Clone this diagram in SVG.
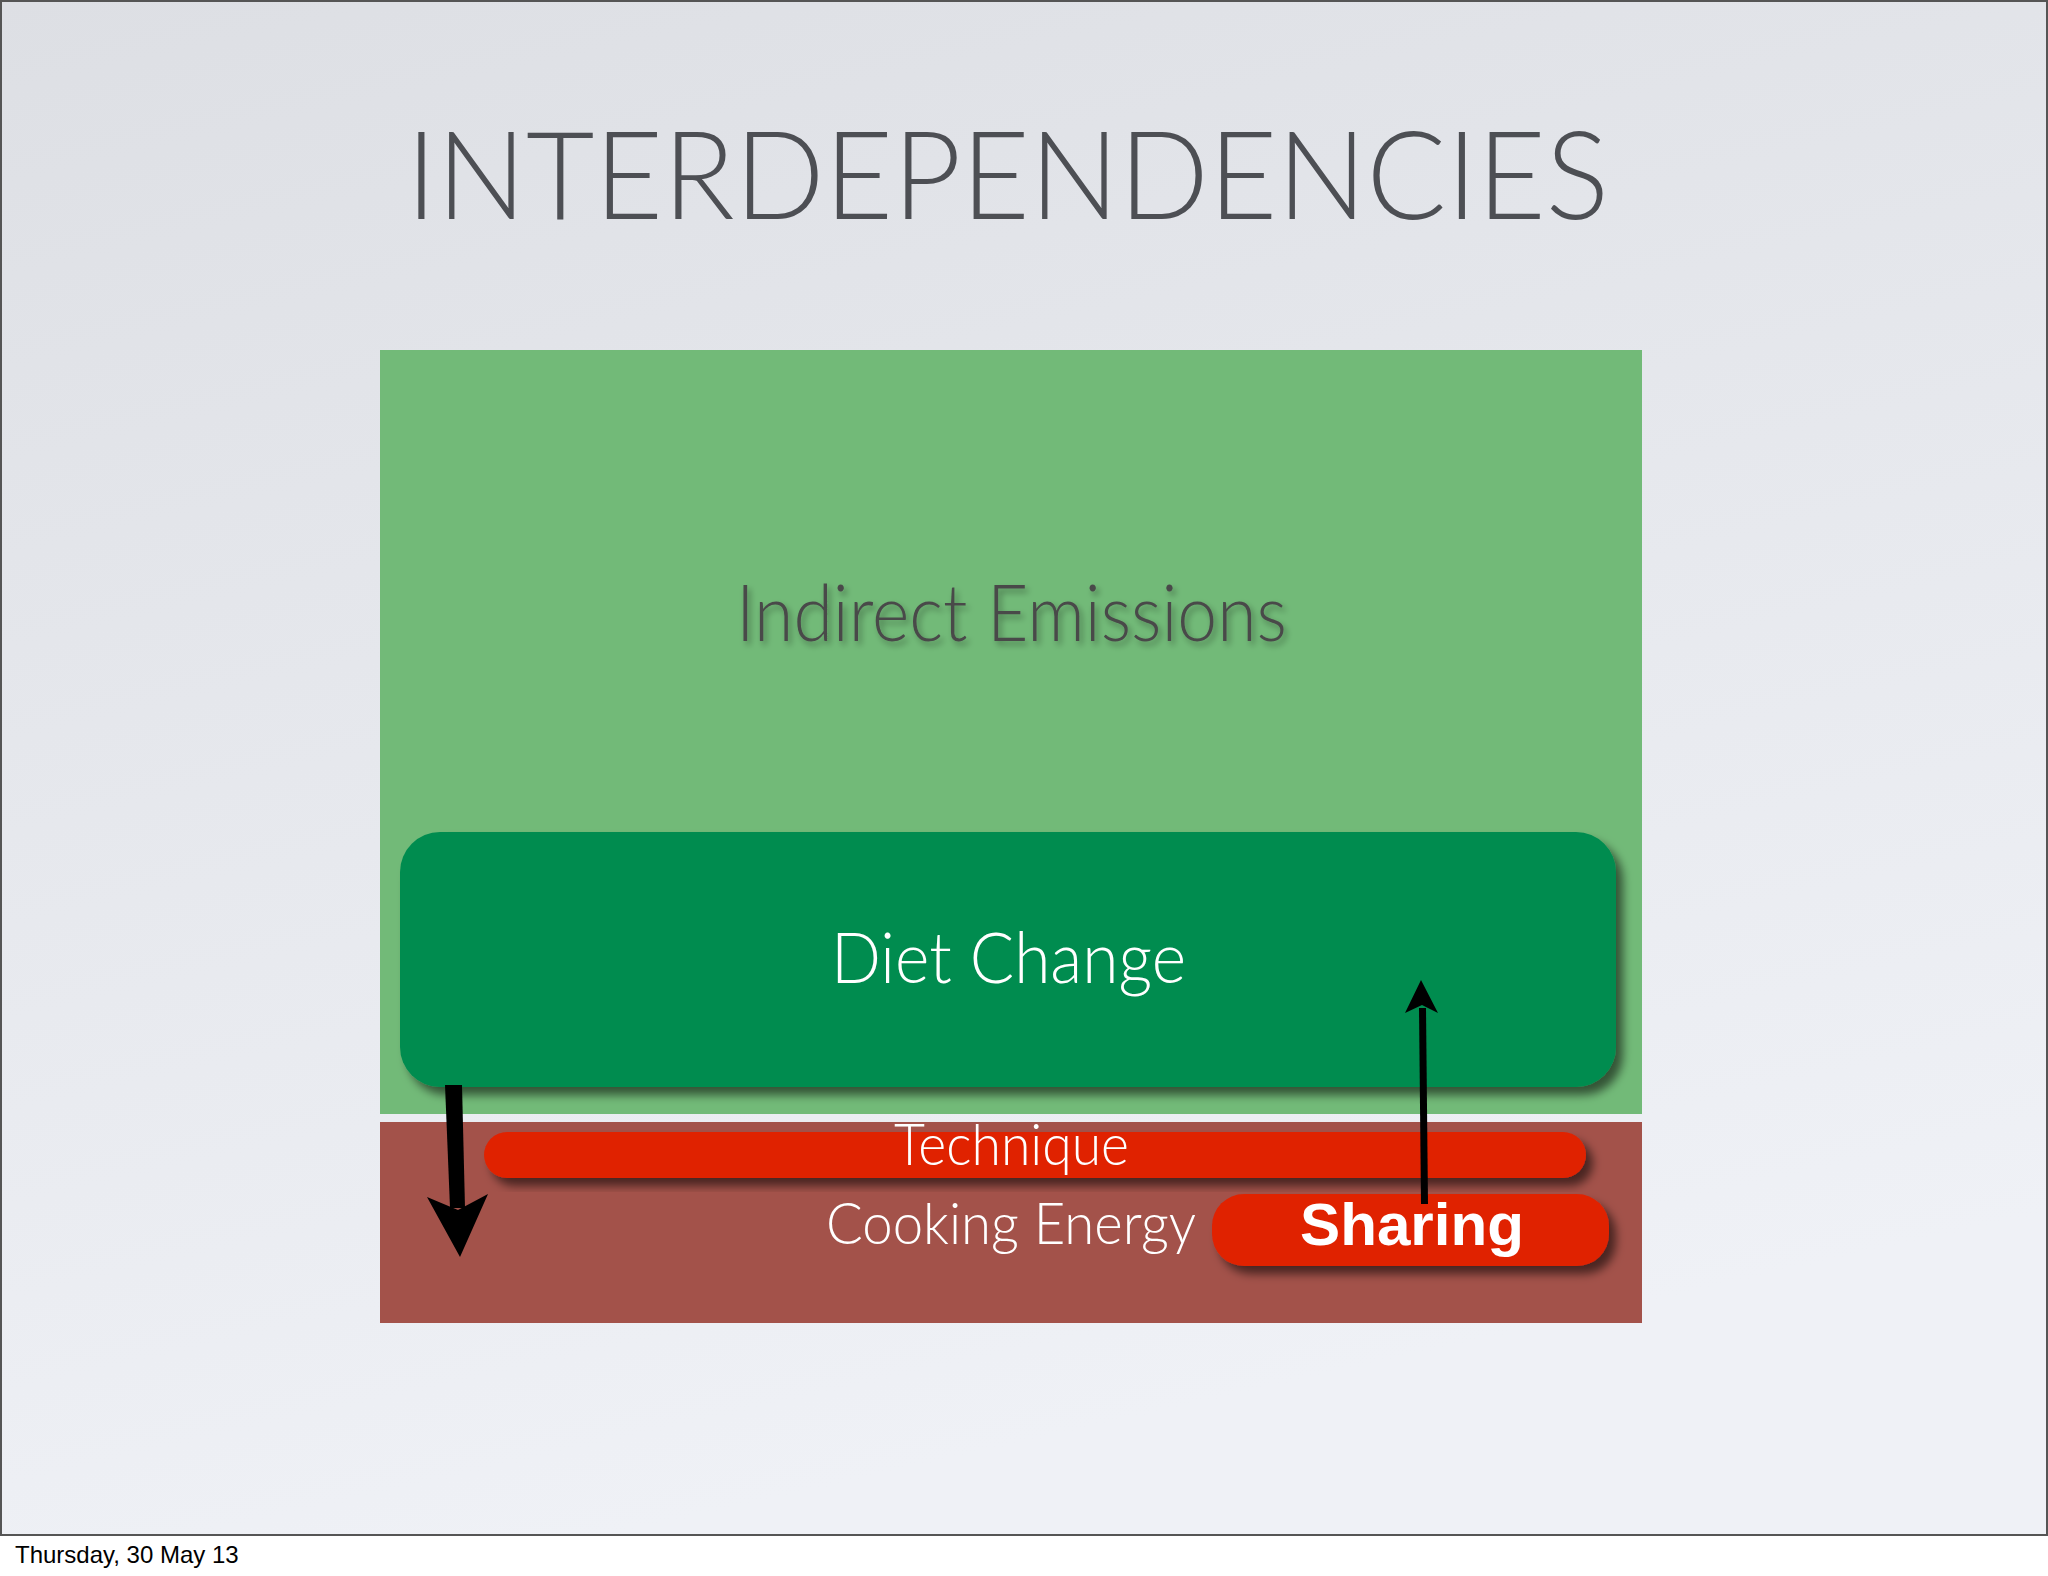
<svg xmlns="http://www.w3.org/2000/svg" width="2048" height="1576" viewBox="0 0 2048 1576">
  <defs>
    <linearGradient id="bg" x1="0" y1="0" x2="0.3" y2="1">
      <stop offset="0" stop-color="#dddfe4"/>
      <stop offset="1" stop-color="#eff1f6"/>
    </linearGradient>
    <filter id="sh" x="-10%" y="-10%" width="130%" height="140%">
      <feDropShadow dx="7" dy="8" stdDeviation="5" flood-color="#000" flood-opacity="0.55"/>
    </filter>
    <filter id="tsh" x="-10%" y="-20%" width="130%" height="150%">
      <feDropShadow dx="3" dy="4" stdDeviation="3" flood-color="#000" flood-opacity="0.35"/>
    </filter>
    <style>
      .light { font-family: Lato, "Open Sans", "Liberation Sans", sans-serif; font-weight: 300; }
      .white { fill: #ffffff; }
      .arrow { fill: #000000; }
    </style>
  </defs>

  <rect x="0" y="0" width="2048" height="1576" fill="#ffffff"/>
  <rect x="1" y="1" width="2046" height="1534" fill="url(#bg)" stroke="#555555" stroke-width="2"/>

  <text class="light" x="406" y="219" font-size="122" fill="#4d4f54" textLength="1203" lengthAdjust="spacingAndGlyphs">INTERDEPENDENCIES</text>

  <g id="indirect-emissions">
    <rect x="380" y="350" width="1262" height="764" fill="#72ba78"/>
    <text class="light" x="736" y="641" font-size="78" fill="#4a4a4a" filter="url(#tsh)" textLength="551" lengthAdjust="spacingAndGlyphs">Indirect Emissions</text>
  </g>

  <g id="cooking-energy">
    <rect x="380" y="1122" width="1262" height="201" fill="#a3524a"/>
    <text class="light white" x="826" y="1244" font-size="58" textLength="370" lengthAdjust="spacingAndGlyphs">Cooking Energy</text>
  </g>

  <g id="diet-change">
    <rect x="400" y="832" width="1216" height="255" rx="40" ry="40" fill="#008c50" filter="url(#sh)"/>
    <text class="light white" x="831" y="983" font-size="70" textLength="355" lengthAdjust="spacingAndGlyphs">Diet Change</text>
  </g>

  <g id="technique">
    <rect x="484" y="1132" width="1102" height="46" rx="23" ry="23" fill="#e02200" filter="url(#sh)"/>
    <text class="light white" x="894" y="1165" font-size="58" textLength="235" lengthAdjust="spacingAndGlyphs">Technique</text>
  </g>

  <g id="sharing">
    <rect x="1212" y="1194" width="397" height="72" rx="32" ry="32" fill="#e02200" filter="url(#sh)"/>
    <text x="1300" y="1245" font-family="'Liberation Sans', Arial, sans-serif" font-weight="bold" font-size="59" class="white" textLength="224" lengthAdjust="spacingAndGlyphs">Sharing</text>
  </g>

  <g id="connectors">
    <polygon class="arrow" points="445,1085 462,1085 465,1208 450,1208"/>
    <polygon class="arrow" points="427,1197 458,1210 488,1194 460,1257"/>
    <polygon class="arrow" points="1421,1204 1428,1204 1426,1008 1419,1008"/>
    <polygon class="arrow" points="1405,1013 1422,1005 1438,1013 1421,980"/>
  </g>

  <text x="15" y="1563" font-family="'Liberation Sans', Arial, sans-serif" font-size="24" fill="#000000">Thursday, 30 May 13</text>
</svg>
